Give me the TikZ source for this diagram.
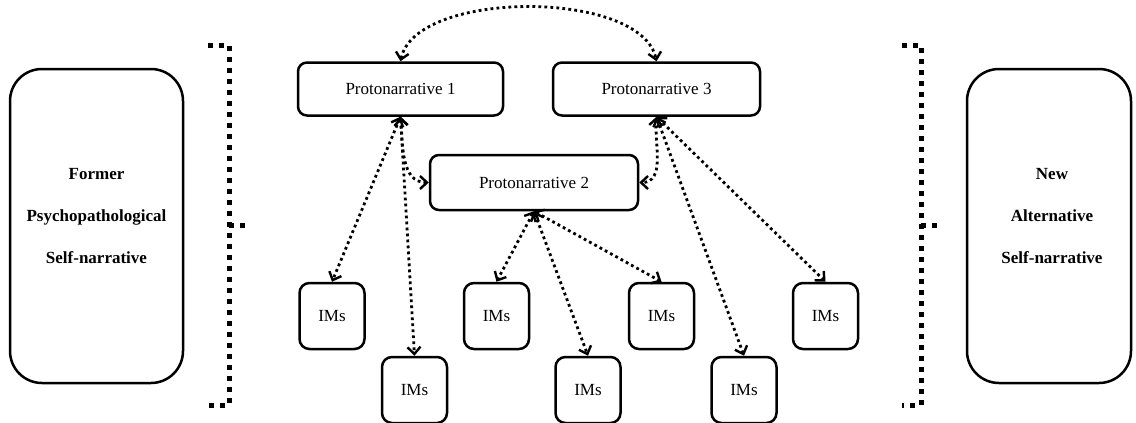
\documentclass[tikz,border=0pt]{standalone}
\usepackage{fontspec}
\setmainfont{Liberation Serif}
\usetikzlibrary{arrows.meta}
\begin{document}
\begin{tikzpicture}[x=1pt,y=-1pt,
  pbox/.style={draw,line width=2.5pt,rounded corners=9pt,minimum width=205pt,minimum height=53pt,inner sep=0pt,font=\fontsize{17}{20}\selectfont},
  imbox/.style={draw,line width=2.5pt,rounded corners=10pt,minimum width=65pt,minimum height=66pt,inner sep=0pt,font=\fontsize{17}{20}\selectfont},
  bigbox/.style={draw,line width=2.5pt,rounded corners=32pt,minimum height=314pt,inner sep=0pt},
  bigtext/.style={align=center,font=\fontsize{17}{42}\selectfont\bfseries},
  link/.style={line width=2.8pt,dash pattern=on 2.8pt off 3.2pt,{Straight Barb[length=7pt,width=13pt,line width=2.4pt]}-{Straight Barb[length=7pt,width=13pt,line width=2.4pt]}},
  brack/.style={line width=5pt,dash pattern=on 5pt off 6pt}
]
\useasboundingbox (0,0) rectangle (1136,423);
% big boxes
\node[bigbox,minimum width=173pt] (left) at (96.5,226) {};
\node[bigtext] (lefttext) at (96.5,216) {Former\\Psychopathological\\Self-narrative};
\node[bigbox,minimum width=164pt] (right) at (1049,226) {};
\node[bigtext] (righttext) at (1052,216) {New\\Alternative\\Self-narrative};
% protonarratives
\node[pbox] (p1) at (400.5,89) {Protonarrative 1};
\node[pbox,minimum width=207pt] (p3) at (656.5,89) {Protonarrative 3};
\node[pbox,minimum width=208pt,minimum height=55pt] (p2) at (534,182.5) {Protonarrative 2};
% IMs
\node[imbox] (a) at (332,316) {IMs};
\node[imbox] (c) at (496.5,316) {IMs};
\node[imbox] (e) at (661.5,316) {IMs};
\node[imbox] (g) at (825.5,316) {IMs};
\node[imbox] (b) at (414.5,390) {IMs};
\node[imbox] (d) at (588,390) {IMs};
\node[imbox] (f) at (744,390) {IMs};
% links
\draw[link] (p1.north) .. controls +(15,-72) and +(-15,-72) .. (p3.north);
\draw[link] (p1.south) -- (a.north);
\draw[link] (p1.south) -- (b.north);
\draw[link] (p1.south) to[out=-85,in=180] (p2.west);
\draw[link] (p3.south) to[out=-95,in=0] (p2.east);
\draw[link] (p3.south) -- (f.north);
\draw[link] (p3.south) -- (g.north);
\draw[link] (p2.south) -- (c.north);
\draw[link] (p2.south) -- (d.north);
\draw[link] (p2.south) -- (e.north);
% brackets
\coordinate (lt) at (229,45);
\coordinate (lb) at (229,405);
\coordinate (lm) at (229,225);
\draw[brack] (208,45) -- (lt) -- (lb) -- (208,405);
\draw[brack] (lm) -- (248,225);
\coordinate (rt) at (921,45);
\coordinate (rb) at (921,405);
\coordinate (rm) at (921,225);
\draw[brack] (902,45) -- (rt) -- (rb) -- (902,405);
\draw[brack] (rm) -- (940,225);
\end{tikzpicture}
\end{document}
